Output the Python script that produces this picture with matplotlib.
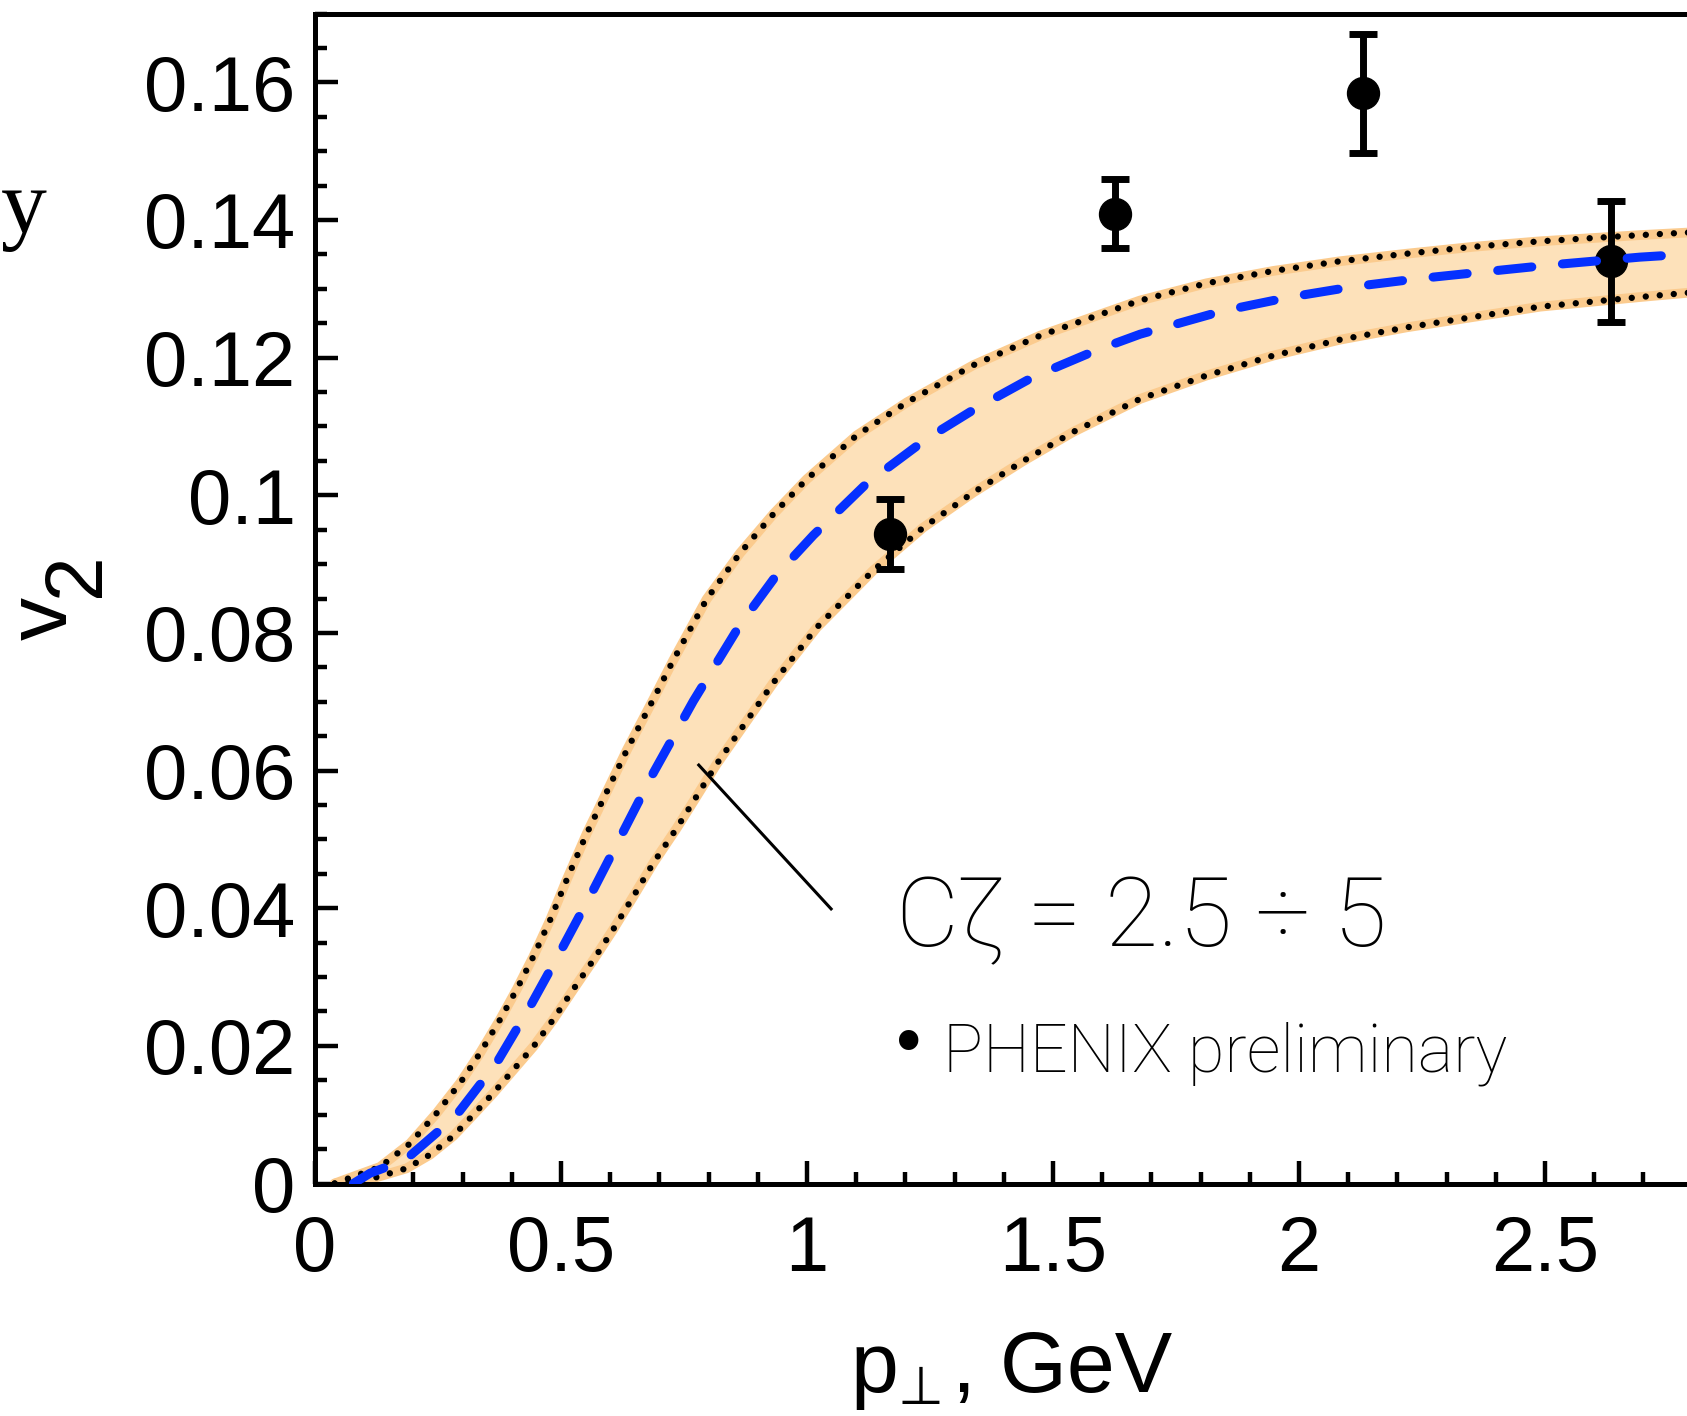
import matplotlib
matplotlib.use("Agg")
import matplotlib.pyplot as plt
from matplotlib.ticker import MultipleLocator

# ---- data ----
upper_x = [0.04, 0.078, 0.132, 0.193, 0.247, 0.295, 0.335, 0.376, 0.410, 0.444, 0.478, 0.512,
           0.552, 0.593, 0.634, 0.688, 0.728, 0.796, 0.864, 0.932, 0.999, 1.101, 1.203, 1.338,
           1.474, 1.609, 1.677, 1.812, 1.948, 2.083, 2.219, 2.354, 2.490, 2.693, 2.85, 3.0]
upper_y = [0.0, 0.0010, 0.0024, 0.0058, 0.0102, 0.0146, 0.0189, 0.0238, 0.0282, 0.0330, 0.0383,
           0.0442, 0.0508, 0.0569, 0.0630, 0.0704, 0.0760, 0.0849, 0.0916, 0.0973, 0.1023,
           0.1087, 0.1135, 0.1189, 0.1232, 0.1266, 0.1283, 0.1308, 0.1326, 0.1340, 0.1351,
           0.1361, 0.1369, 0.1378, 0.1384, 0.1390]

center_x = [0.078, 0.112, 0.183, 0.285, 0.369, 0.437, 0.501, 0.566, 0.627, 0.688, 0.769, 0.864,
            0.938, 1.013, 1.121, 1.243, 1.338, 1.460, 1.589, 1.677, 1.846, 1.982, 2.110, 2.246,
            2.381, 2.517, 2.693, 2.85, 3.0]
center_y = [0.0, 0.0015, 0.0034, 0.0097, 0.0175, 0.0257, 0.0340, 0.0427, 0.0512, 0.0597, 0.0701,
            0.0812, 0.0884, 0.0942, 0.1017, 0.1082, 0.1124, 0.1172, 0.1211, 0.1234, 0.1268,
            0.1288, 0.1303, 0.1315, 0.1325, 0.1335, 0.1346, 0.1353, 0.1360]

lower_x = [0.04, 0.12, 0.186, 0.234, 0.281, 0.322, 0.362, 0.403, 0.444, 0.484, 0.525, 0.566,
           0.606, 0.647, 0.688, 0.735, 0.776, 0.816, 0.932, 1.020, 1.135, 1.236, 1.338, 1.440,
           1.541, 1.677, 1.812, 1.948, 2.083, 2.219, 2.354, 2.490, 2.693, 2.85, 3.0]
lower_y = [0.0, 0.0008, 0.0022, 0.0042, 0.0069, 0.0100, 0.0131, 0.0165, 0.0199, 0.0238, 0.0282,
           0.0325, 0.0369, 0.0417, 0.0466, 0.0516, 0.0563, 0.0609, 0.0728, 0.0808, 0.0891,
           0.0953, 0.1004, 0.1050, 0.1092, 0.1140, 0.1174, 0.1203, 0.1226, 0.1244, 0.1259,
           0.1274, 0.1288, 0.1298, 0.1306]

phenix_x = [1.168, 1.627, 2.131, 2.635]
phenix_y = [0.0944, 0.1409, 0.1584, 0.1340]
phenix_err = [0.0051, 0.0050, 0.0086, 0.0088]

x_ticks = [0, 0.5, 1, 1.5, 2, 2.5]
x_tick_labels = ["0", "0.5", "1", "1.5", "2", "2.5"]
y_ticks = [0, 0.02, 0.04, 0.06, 0.08, 0.10, 0.12, 0.14, 0.16]
y_tick_labels = ["0", "0.02", "0.04", "0.06", "0.08", "0.1", "0.12", "0.14", "0.16"]

band_label = "C\u03b6 = 2.5 \u00f7 5"
data_bullet = "\u2022"
data_label = "PHENIX preliminary"

# ---- figure ----
W, H = 1687, 1416
fig = plt.figure(figsize=(W / 100, H / 100), dpi=100)
ax = fig.add_axes([315 / W, (H - 1183.5) / H, (1791 - 315) / W, (1183.5 - 13.5) / H])
ax.set_xlim(0, 3)
ax.set_ylim(0, 0.17)

FILL = "#FDE1BA"
EDGE = "#FBCB8E"
BLUE = "#0530FF"

poly_x = list(upper_x) + list(lower_x[::-1])
poly_y = list(upper_y) + list(lower_y[::-1])
ax.fill(poly_x, poly_y, color=FILL, lw=0, zorder=1)
for xs, ys in ((upper_x, upper_y), (lower_x, lower_y)):
    ax.plot(xs, ys, color=EDGE, lw=7, solid_capstyle="round", solid_joinstyle="round",
            zorder=2)

ax.errorbar(phenix_x, phenix_y, yerr=phenix_err, fmt="o", color="black", ms=23,
            elinewidth=5, capsize=10, capthick=5, zorder=3)

for xs, ys in ((upper_x, upper_y), (lower_x, lower_y)):
    ax.plot(xs, ys, color="black", lw=4.6, linestyle=(0, (0.001, 2.2)),
            dash_capstyle="round", zorder=4)

ax.plot(center_x, center_y, color=BLUE, lw=6.5, linestyle=(0, (3.8, 3.4)),
        dash_capstyle="round", dash_joinstyle="round", zorder=5)

# pointer line
ax.plot([0.780, 1.049], [0.0608, 0.0399], color="black", lw=2.2, zorder=6)

# ---- axes styling ----
for s in ax.spines.values():
    s.set_linewidth(3.6)
ax.set_xticks(x_ticks)
ax.set_xticklabels(x_tick_labels)
ax.set_yticks(y_ticks)
ax.set_yticklabels(y_tick_labels)
ax.xaxis.set_minor_locator(MultipleLocator(0.1))
ax.yaxis.set_minor_locator(MultipleLocator(0.005))
ax.tick_params(which="both", direction="in", top=False, right=False, width=3.2)
ax.tick_params(which="major", length=16.5)
ax.tick_params(which="minor", length=8.5)
ax.tick_params(axis="y", which="major", pad=14)
ax.tick_params(axis="x", which="major", pad=22)
for lab in ax.get_xticklabels() + ax.get_yticklabels():
    lab.set_fontfamily("Liberation Sans")
    lab.set_fontsize(56)


def px(x, y):
    return x / W, 1 - y / H


# annotation texts
fig.text(*px(896, 946), band_label, fontsize=70, family="Roboto", fontweight="light",
         ha="left", va="baseline")
fig.text(*px(909, 1046), data_bullet, fontsize=48, family=["DejaVu Sans"],
         ha="center", va="center")
fig.text(*px(943, 1071), data_label, fontsize=48, family="Roboto", fontweight="light",
         ha="left", va="baseline")

# axis labels
fig.text(*px(45, 618), "v", fontsize=62, family="Liberation Sans", rotation=90,
         ha="center", va="center")
fig.text(*px(78, 575), "2", fontsize=58, family="Liberation Sans", rotation=90,
         ha="center", va="center")

fig.text(*px(850, 1392), "p", fontsize=62, family="Liberation Sans", ha="left", va="baseline")
fig.text(*px(897, 1415), "\u22a5", fontsize=38, family=["DejaVu Sans"],
         ha="left", va="bottom")
fig.text(*px(952, 1392), ", GeV", fontsize=62, family="Liberation Sans", ha="left", va="baseline")

# remnant of neighbouring text
fig.text(*px(47, 233), "y", fontsize=66, family="Liberation Serif", ha="right", va="baseline")

fig.savefig("out.png", dpi=100)
